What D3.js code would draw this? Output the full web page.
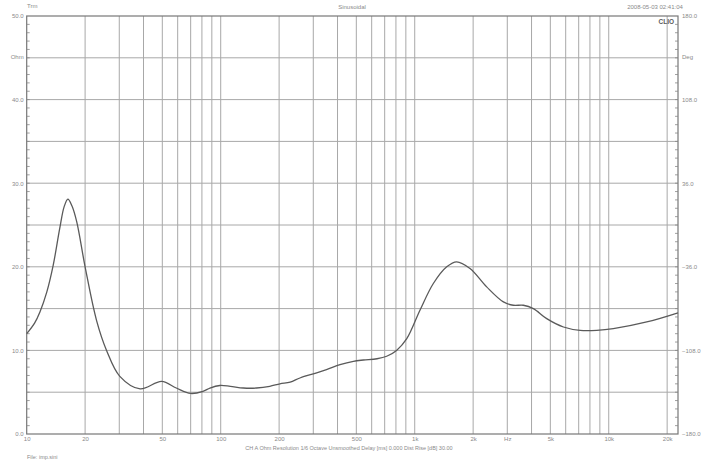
<!DOCTYPE html>
<html><head><meta charset="utf-8">
<script src="https://cdn.jsdelivr.net/npm/d3@7"></script>
<style>
body{margin:0;background:#fff;}
svg{display:block;font-family:"Liberation Sans",Arial,sans-serif;}
</style></head>
<body><svg id="c" width="705" height="467"></svg>
<script>
// Impedance curve (Hz, Ohm)
const freqs = [10, 11.0, 11.7, 12.7, 13.7, 14.8, 15.6, 16.3, 17.1, 18.1, 20, 22.9, 25.8, 30.2, 38.4, 49.6, 59, 70, 81, 88, 99, 112, 131, 153, 179, 202, 228, 256, 300, 351, 412, 483, 544, 639, 717, 806, 910, 1064, 1247, 1462, 1645, 1927, 2349, 2864, 3223, 3630, 4087, 4790, 5840, 7120, 8670, 10560, 15700, 22750];
const ohms  = [12.0, 13.3, 14.6, 17.0, 20.2, 24.6, 27.2, 28.1, 27.3, 25.4, 20.0, 13.6, 10.0, 6.9, 5.4, 6.3, 5.5, 4.85, 5.1, 5.5, 5.8, 5.7, 5.5, 5.5, 5.7, 6.0, 6.2, 6.7, 7.2, 7.7, 8.3, 8.7, 8.85, 9.0, 9.3, 10.0, 11.4, 14.8, 18.0, 20.0, 20.6, 19.8, 17.6, 15.8, 15.4, 15.4, 15.0, 13.8, 12.8, 12.4, 12.4, 12.6, 13.4, 14.5];
const xTickValues = [10, 20, 50, 100, 200, 500, 1000, 2000, 3000, 5000, 10000, 20000];
const xTickLabels = ["10", "20", "50", "100", "200", "500", "1k", "2k", "Hz", "5k", "10k", "20k"];
const leftTicks = [0, 10, 20, 30, 40, 50];
const rightTicks = [-180, -108, -36, 36, 108, 180];

const svg = d3.select("#c");
const L = 26.7, R = 678, T = 16, B = 434;
const x = d3.scaleLog().domain([10, 22750]).range([L, R]);
const y = d3.scaleLinear().domain([0, 50]).range([B, T]);
const yp = d3.scaleLinear().domain([-180, 180]).range([B, T]);
const txt = "#8a8a8a", gridC = "#a8a8a8";

// vertical grid
const vgrid = [];
for (let d = 10; d <= 10000; d *= 10) for (let m = 1; m <= 9; m++) { const v = d * m; if (v > 10 && v <= 20000) vgrid.push(v); }
svg.append("g").selectAll("line").data(vgrid).join("line")
  .attr("x1", d => x(d)).attr("x2", d => x(d)).attr("y1", T).attr("y2", B)
  .attr("stroke", gridC).attr("stroke-width", 1);
// horizontal grid
svg.append("g").selectAll("line").data(d3.range(5, 50, 5)).join("line")
  .attr("x1", L).attr("x2", R).attr("y1", d => y(d)).attr("y2", d => y(d))
  .attr("stroke", gridC).attr("stroke-width", 1);

// frame
svg.append("rect").attr("x", L).attr("y", T).attr("width", R - L).attr("height", B - T)
  .attr("fill", "none").attr("stroke", "#777").attr("stroke-width", 1.2);

// left axis
const la = svg.append("g").attr("transform", `translate(${L},0)`)
  .call(d3.axisLeft(y).tickValues(leftTicks).tickSize(0).tickPadding(3).tickFormat(d3.format(".1f")));
la.select(".domain").remove();
la.selectAll("text").attr("fill", txt).attr("font-size", 6);
svg.append("g").selectAll("line").data(d3.range(1, 50)).join("line")
  .attr("x1", L).attr("x2", L + 3).attr("y1", d => y(d)).attr("y2", d => y(d))
  .attr("stroke", "#888").attr("stroke-width", 0.8);

// right axis
const ra = svg.append("g").attr("transform", `translate(${R},0)`)
  .call(d3.axisRight(yp).tickValues(rightTicks).tickSize(0).tickPadding(4).tickFormat(d3.format(".1f")));
ra.select(".domain").remove();
ra.selectAll("text").attr("fill", txt).attr("font-size", 6);
svg.append("g").selectAll("line").data(d3.range(-180 + 7.2, 180, 7.2)).join("line")
  .attr("x1", R - 3).attr("x2", R).attr("y1", d => yp(d)).attr("y2", d => yp(d))
  .attr("stroke", "#888").attr("stroke-width", 0.8);

// bottom axis labels
const ba = svg.append("g").attr("transform", `translate(0,${B})`)
  .call(d3.axisBottom(x).tickValues(xTickValues).tickSize(0).tickPadding(3)
    .tickFormat((d, i) => xTickLabels[i]));
ba.select(".domain").remove();
ba.selectAll("text").attr("fill", txt).attr("font-size", 6);

// unit labels
svg.append("text").attr("x", L - 3).attr("y", 59).attr("text-anchor", "end").attr("fill", txt).attr("font-size", 6).text("Ohm");
svg.append("text").attr("x", R + 4).attr("y", 59).attr("fill", txt).attr("font-size", 6).text("Deg");

// header texts
svg.append("text").attr("x", 27).attr("y", 8).attr("fill", txt).attr("font-size", 6).text("Trm");
svg.append("text").attr("x", 352).attr("y", 9).attr("text-anchor", "middle").attr("fill", txt).attr("font-size", 6).text("Sinusoidal");
svg.append("text").attr("x", 655).attr("y", 9).attr("text-anchor", "middle").attr("fill", txt).attr("font-size", 6).text("2008-05-03 02:41:04");
svg.append("text").attr("x", 674).attr("y", 24).attr("text-anchor", "end").attr("fill", "#5a5a5a").attr("font-size", 6.5).attr("font-weight", "bold").text("CLIO");

// footer texts
svg.append("text").attr("x", 349).attr("y", 450).attr("text-anchor", "middle").attr("fill", txt).attr("font-size", 5.5)
  .text("CH A   Ohm   Resolution 1/6 Octave   Unsmoothed   Delay [ms] 0.000   Dist Rise [dB] 30.00");
svg.append("text").attr("x", 27).attr("y", 459).attr("fill", txt).attr("font-size", 5.5).text("File: imp.sini");

// curve
const data = freqs.map((f, i) => [f, ohms[i]]);
svg.append("path").datum(data)
  .attr("d", d3.line().x(d => x(d[0])).y(d => y(d[1])).curve(d3.curveCatmullRom.alpha(0.5)))
  .attr("fill", "none").attr("stroke", "#5a5a5a").attr("stroke-width", 1.3);
</script></body></html>
